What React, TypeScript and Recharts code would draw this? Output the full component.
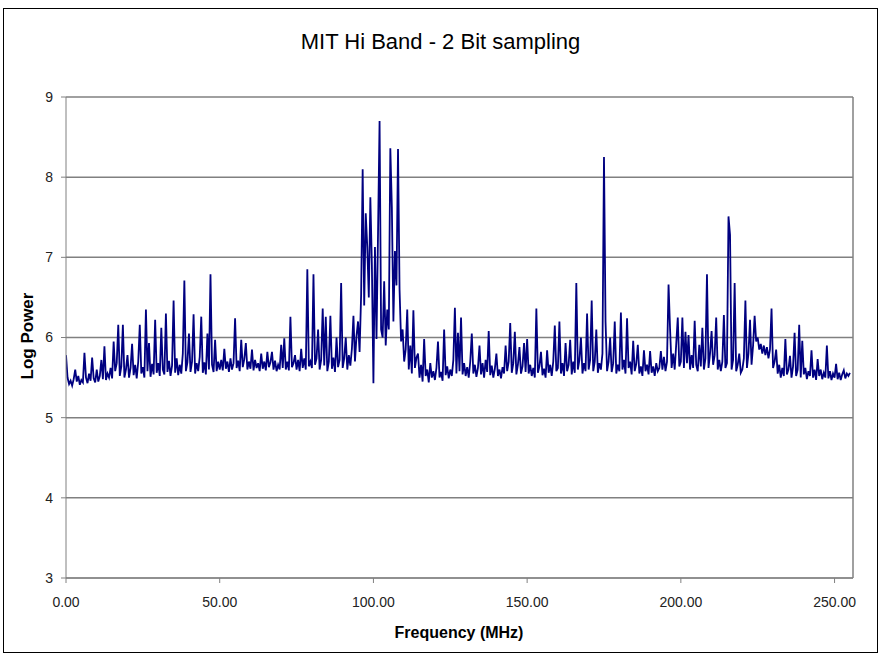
import React from 'react';
import {
    LineChart,
    Line,
    XAxis,
    YAxis,
    CartesianGrid,
    ReferenceLine,
} from 'recharts';

// spectrum samples every 0.5 MHz, one row per 10 MHz
const logPower = [
    5.78, 5.50, 5.42, 5.46, 5.40, 5.48, 5.60, 5.45, 5.52, 5.41, 5.47, 5.44, 5.81, 5.50, 5.43, 5.55, 5.46, 5.75, 5.49, 5.44, // 0
    5.60, 5.45, 5.52, 5.72, 5.48, 5.89, 5.47, 5.55, 5.50, 5.62, 5.49, 5.95, 5.58, 5.68, 6.16, 5.52, 5.64, 6.16, 5.50, 5.60, // 10
    5.78, 5.50, 5.62, 5.92, 5.53, 5.66, 5.49, 5.70, 6.16, 5.55, 5.63, 5.50, 6.35, 5.58, 5.93, 5.51, 5.67, 5.54, 6.22, 5.56, // 20
    5.68, 5.52, 6.12, 5.60, 5.54, 6.30, 5.57, 5.71, 5.52, 5.65, 6.46, 5.56, 5.74, 5.53, 5.66, 5.55, 5.80, 6.71, 5.58, 5.69, // 30
    6.05, 5.57, 5.70, 6.29, 5.55, 5.68, 5.58, 5.76, 6.26, 5.56, 5.69, 5.54, 6.05, 5.60, 6.79, 5.66, 5.57, 5.97, 5.58, 5.70, // 40
    5.60, 5.72, 5.59, 5.86, 5.61, 5.70, 5.57, 5.74, 5.60, 5.68, 6.24, 5.62, 5.71, 5.58, 5.97, 5.63, 5.73, 5.93, 5.60, 5.70, // 50
    5.61, 5.85, 5.59, 5.72, 5.62, 5.68, 5.58, 5.80, 5.61, 5.70, 5.59, 5.82, 5.63, 5.69, 5.82, 5.60, 5.71, 5.58, 5.66, 5.60, // 60
    5.91, 5.62, 5.99, 5.60, 5.70, 5.59, 6.26, 5.63, 5.68, 5.78, 5.60, 5.72, 5.58, 5.86, 5.62, 5.74, 5.60, 6.85, 5.64, 5.70, // 70
    5.62, 6.79, 5.66, 5.74, 6.10, 5.60, 5.72, 6.36, 5.65, 6.26, 5.58, 5.70, 6.27, 5.61, 5.75, 5.57, 6.00, 5.63, 5.72, 6.68, // 80
    5.62, 5.74, 6.00, 5.60, 5.78, 5.65, 5.86, 6.27, 5.70, 6.02, 6.20, 5.82, 6.53, 8.10, 6.40, 7.55, 7.13, 6.50, 7.75, 6.90, // 90
    5.43, 7.13, 5.98, 7.30, 8.70, 6.10, 6.00, 6.70, 5.90, 6.35, 6.10, 8.36, 7.62, 6.20, 7.08, 6.65, 8.35, 6.60, 5.95, 6.10, // 100
    5.70, 5.85, 6.35, 5.60, 5.90, 5.55, 6.34, 5.62, 5.75, 5.80, 5.50, 5.66, 5.45, 5.98, 5.52, 5.60, 5.44, 5.68, 5.50, 5.58, // 110
    5.47, 5.62, 5.95, 5.50, 5.57, 5.46, 6.10, 5.53, 5.64, 5.49, 5.60, 5.52, 5.72, 6.37, 5.55, 6.06, 5.58, 6.25, 5.54, 5.68, // 120
    5.52, 5.63, 5.50, 5.70, 6.05, 5.55, 5.66, 5.51, 5.62, 5.90, 5.54, 5.68, 5.50, 5.72, 5.57, 6.08, 5.53, 5.65, 5.50, 5.61, // 130
    5.80, 5.52, 5.60, 5.49, 5.63, 5.55, 5.90, 5.58, 5.70, 6.18, 5.56, 5.68, 6.07, 5.54, 5.66, 5.88, 5.55, 5.64, 5.93, 5.57, // 140
    5.98, 5.55, 5.66, 5.52, 5.62, 5.50, 6.36, 5.56, 5.64, 5.82, 5.53, 5.61, 5.50, 5.84, 5.56, 5.66, 5.52, 5.70, 6.15, 5.58, // 150
    5.62, 6.20, 5.55, 5.68, 5.52, 5.93, 5.58, 5.66, 5.97, 5.54, 5.70, 5.56, 6.68, 5.60, 5.72, 6.00, 5.55, 5.68, 5.58, 6.30, // 160
    5.60, 5.72, 6.46, 5.58, 5.70, 6.10, 5.56, 5.68, 5.60, 5.80, 8.25, 6.20, 5.58, 5.70, 6.00, 5.57, 5.68, 6.20, 5.55, 5.66, // 170
    5.58, 6.31, 5.60, 5.72, 5.55, 6.24, 5.62, 5.70, 5.54, 5.96, 5.58, 5.67, 5.91, 5.55, 5.64, 5.52, 5.84, 5.58, 5.66, 5.54, // 180
    5.83, 5.56, 5.64, 5.52, 5.68, 5.58, 5.62, 5.83, 5.60, 5.76, 5.58, 5.70, 6.66, 6.10, 5.62, 5.80, 5.60, 5.92, 6.25, 5.64, // 190
    5.70, 6.25, 5.62, 6.07, 5.68, 6.03, 5.60, 5.78, 5.62, 6.21, 5.66, 5.58, 5.91, 5.64, 6.12, 5.60, 5.74, 6.79, 5.62, 5.80, // 200
    6.08, 5.66, 5.78, 6.25, 5.60, 5.72, 5.58, 5.70, 6.28, 5.62, 5.68, 7.51, 7.28, 5.60, 5.72, 6.68, 5.58, 5.66, 5.80, 5.56, // 210
    5.60, 5.74, 6.46, 5.62, 5.80, 6.22, 5.66, 5.90, 6.27, 5.95, 6.00, 5.85, 5.92, 5.80, 5.90, 5.78, 5.88, 5.74, 5.85, 6.36, // 220
    5.62, 5.70, 5.85, 5.55, 5.66, 5.50, 5.62, 5.52, 5.98, 5.54, 5.60, 5.77, 5.50, 5.64, 6.06, 5.52, 5.60, 6.16, 5.50, 5.96, // 230
    5.54, 5.62, 5.48, 5.58, 5.52, 5.84, 5.50, 5.60, 5.47, 5.73, 5.52, 5.60, 5.48, 5.56, 5.50, 5.90, 5.49, 5.58, 5.47, 5.55, // 240
    5.50, 5.67, 5.48, 5.56, 5.47, 5.54, 5.59, 5.49, 5.55, 5.52, 5.56, // 250
];

const freqStep = 0.5;
const xTicks = [0, 50, 100, 150, 200, 250];
const yTicks = [3, 4, 5, 6, 7, 8, 9];

const spectrum = logPower.map((p, i) => ({ f: i * freqStep, p }));

const font = '"Liberation Sans", Arial, sans-serif';

function App() {
    return (
        <div style={{ position: 'absolute', left: 0, top: 0, width: 881, height: 655, background: '#fff', fontFamily: font }}>
            <div style={{ position: 'absolute', left: 3, top: 8, width: 873, height: 643, border: '1.5px solid #000' }} />
            <div style={{ position: 'absolute', left: 0, top: 29, width: 881, textAlign: 'center', fontSize: 22, color: '#000' }}>
                MIT Hi Band - 2 Bit sampling
            </div>
            <div style={{ position: 'absolute', left: 28, top: 336, transform: 'translate(-50%, -50%) rotate(-90deg)', fontSize: 17, fontWeight: 'bold', whiteSpace: 'nowrap' }}>
                Log Power
            </div>
            <div style={{ position: 'absolute', left: 459, top: 633, transform: 'translate(-50%, -50%)', fontSize: 16, fontWeight: 'bold', whiteSpace: 'nowrap' }}>
                Frequency (MHz)
            </div>
            <div style={{ position: 'absolute', left: 0, top: 0 }}>
                <LineChart
                    width={881}
                    height={655}
                    data={spectrum}
                    margin={{ top: 97, right: 28, bottom: 47, left: 0 }}
                >
                    <CartesianGrid vertical={false} stroke="#808080" strokeWidth={1.5} />
                    <XAxis
                        type="number"
                        dataKey="f"
                        domain={[0, 256]}
                        ticks={xTicks}
                        tickFormatter={(v) => v.toFixed(2)}
                        height={30}
                        tickSize={5}
                        tickMargin={14}
                        stroke="#808080"
                        tick={{ fill: '#222', fontSize: 14, fontFamily: font }}
                        allowDataOverflow
                    />
                    <YAxis
                        type="number"
                        domain={[3, 9]}
                        ticks={yTicks}
                        width={66}
                        tickSize={5}
                        tickMargin={8}
                        stroke="#808080"
                        tick={{ fill: '#222', fontSize: 14, fontFamily: font }}
                    />
                    <ReferenceLine x={256} stroke="#808080" strokeWidth={1.5} />
                    <Line
                        type="linear"
                        dataKey="p"
                        stroke="#000080"
                        strokeWidth={1.8}
                        dot={false}
                        isAnimationActive={false}
                    />
                </LineChart>
            </div>
        </div>
    );
}

export default App;
